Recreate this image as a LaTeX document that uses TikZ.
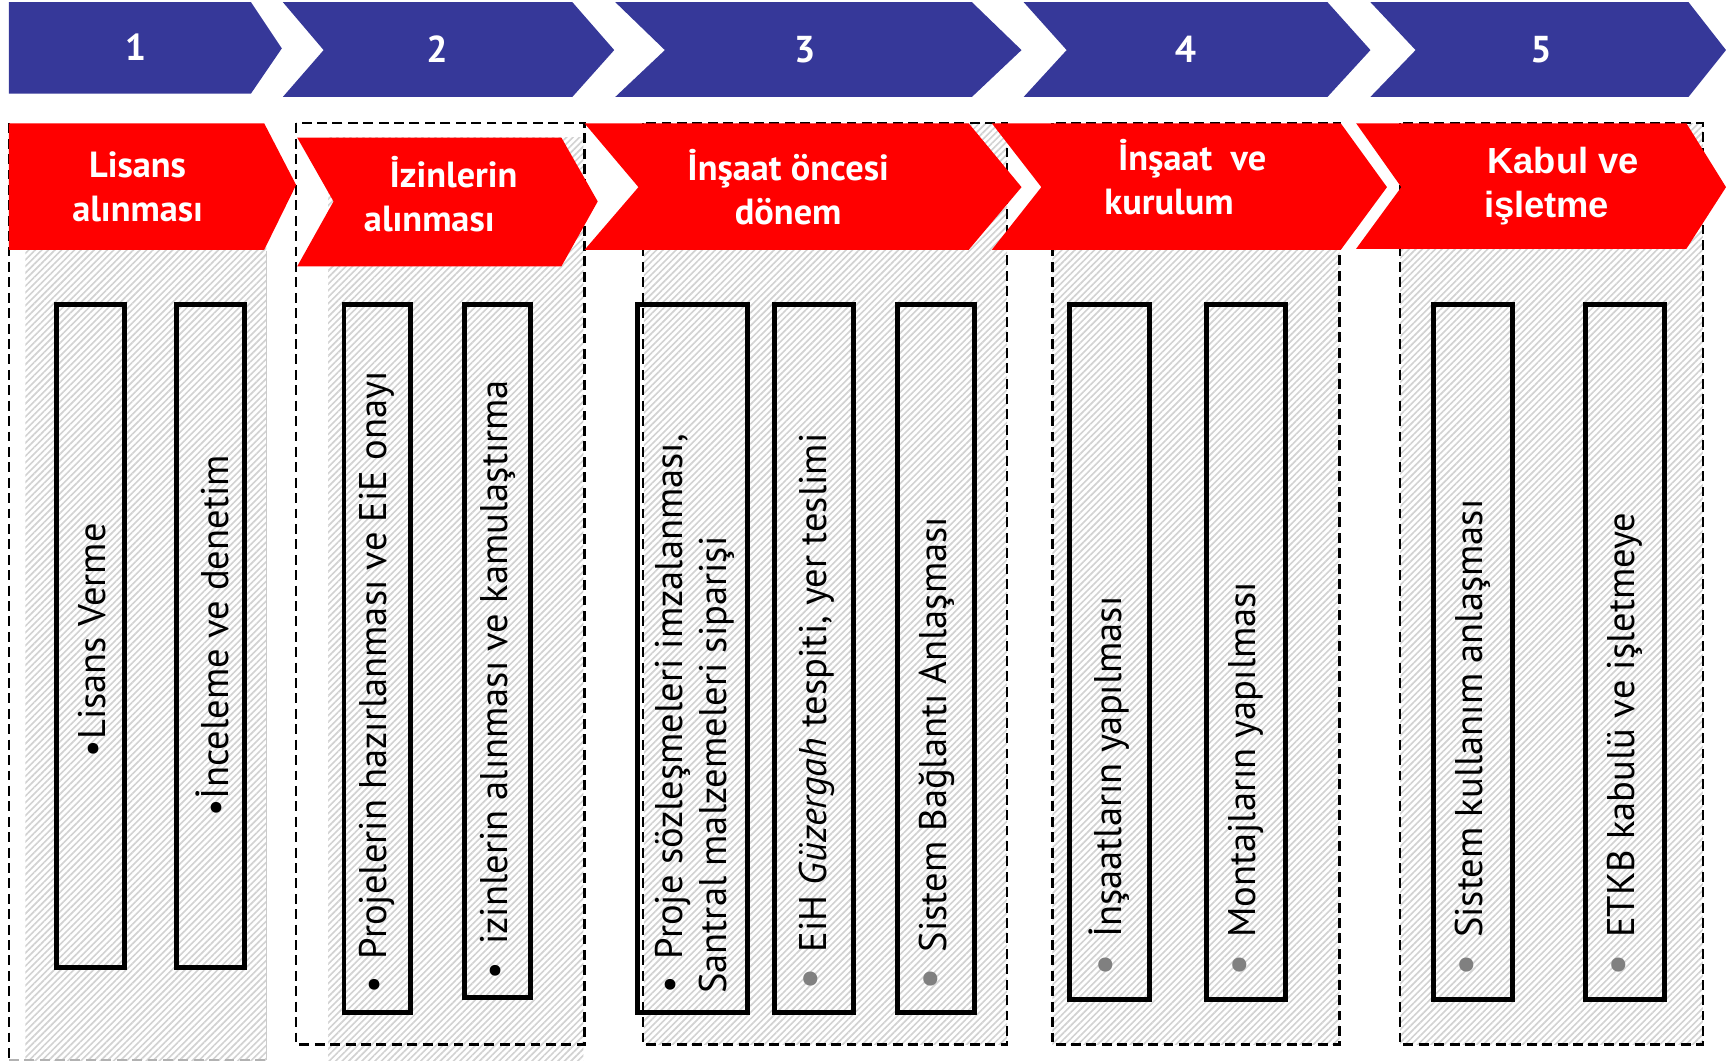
\documentclass[tikz,border=0pt]{standalone}
\usepackage{fontspec}
\setmainfont{PT Sans}
\newfontfamily\arialfont{Liberation Sans}
\usetikzlibrary{patterns.meta}
\definecolor{chevblue}{RGB}{54,56,153}
\definecolor{chevred}{RGB}{255,0,0}
\definecolor{hatchgray}{RGB}{210,210,210}
\definecolor{bulletgray}{RGB}{128,128,128}
\newcommand{\gbul}{{\fontsize{46}{40}\selectfont\textcolor{bulletgray}{•}}\hspace{0.4em}}
\newcommand{\kbul}{•\hspace{0.45em}}
\begin{document}
\begin{tikzpicture}[x=1pt,y=-1pt,
  hatch/.style={pattern={Lines[angle=45,distance=4.2pt,line width=1.5pt]},pattern color=hatchgray},
  grpborder/.style={draw=black,dash pattern=on 9pt off 5pt,line width=2.2pt},
  faintborder/.style={draw=black!30,dash pattern=on 9pt off 5pt,line width=1.5pt},
  bluechev/.style={fill=chevblue},
  redchev/.style={fill=chevred},
  numtxt/.style={text=white,font=\fontsize{34}{40}\selectfont\bfseries,inner sep=0pt},
  hdrtxt/.style={text=white,font=\fontsize{33}{40}\selectfont\bfseries,align=center,inner sep=0pt},
  itembox/.style={draw=black,line width=4.5pt},
  itemtxt/.style={rotate=90,anchor=west,font=\fontsize{35}{40}\selectfont,inner sep=0pt,align=left}
]
\useasboundingbox (0,0) rectangle (1568,966);

% hatched group backgrounds
\fill[hatch] (23,200) rectangle (242,963);
\fill[hatch] (298,125) rectangle (530,963);
\fill[hatch] (585,112) rectangle (915,949);
\fill[hatch] (956,200) rectangle (1217,949);
\fill[hatch] (1272,112) rectangle (1547,949);

% group borders
\draw[grpborder] (8,112) -- (8,963);
\draw[faintborder] (8,963) -- (242,963);
\draw[draw=black!20,line width=1pt] (242,228) -- (242,963);
\draw[grpborder] (269,112) rectangle (531,949);
\draw[grpborder] (584,112) rectangle (915,949);
\draw[grpborder] (956,112) rectangle (1217,949);
\draw[grpborder] (1272,112) rectangle (1547,949);

% blue chevrons
\fill[bluechev] (8,2) -- (228,2) -- (256,44) -- (228,85) -- (8,85) -- cycle;
\fill[bluechev] (257,2) -- (520,2) -- (558,45.5) -- (520,88) -- (257,88) -- (294,45.5) -- cycle;
\fill[bluechev] (559,2) -- (883,2) -- (928,45.5) -- (883,88) -- (559,88) -- (604,45.5) -- cycle;
\fill[bluechev] (930,2) -- (1206,2) -- (1245,45.5) -- (1206,88) -- (930,88) -- (969,45.5) -- cycle;
\fill[bluechev] (1245,2) -- (1534,2) -- (1568,45.5) -- (1534,88) -- (1245,88) -- (1286,45.5) -- cycle;

\node[numtxt] (n1) at (123,43) {1};
\node[numtxt] (n2) at (397,45) {2};
\node[numtxt] (n3) at (731,45) {3};
\node[numtxt] (n4) at (1077,45) {4};
\node[numtxt] (n5) at (1400,45) {5};

% red chevrons
\fill[redchev] (8,112) -- (240,112) -- (269,168) -- (240,227) -- (8,227) -- cycle;
\fill[redchev] (270,125) -- (510,125) -- (543,183) -- (510,242) -- (270,242) -- (303,183) -- cycle;
\fill[redchev] (531,112) -- (880,112) -- (928,170) -- (880,227) -- (531,227) -- (580,170) -- cycle;
\fill[redchev] (901,112) -- (1218,112) -- (1260,170) -- (1218,227) -- (901,227) -- (946,170) -- cycle;
\fill[redchev] (1232,112) -- (1532,112) -- (1568,170) -- (1532,226) -- (1232,226) -- (1273,170) -- cycle;

\node[hdrtxt] (h1) at (125,170) {Lisans\\alınması};
\node[hdrtxt] (h2) at (390,176) {\hspace*{44pt}İzinlerin\\alınması};
\node[hdrtxt] (h3) at (716,170) {İnşaat öncesi\\dönem};
\node[hdrtxt] (h4) at (1062,161) {\hspace*{42pt}İnşaat\ \ ve\\kurulum};
\node[hdrtxt,font=\fontsize{33}{40}\selectfont\arialfont\bfseries] (h5) at (1405,169) {\hspace*{30pt}Kabul ve\\işletme};

% item boxes
\draw[itembox] (51,277) rectangle (113,879);
\draw[itembox] (160,277) rectangle (222,879);
\draw[itembox] (312.5,277) rectangle (373,920);
\draw[itembox] (422,277) rectangle (482,906);
\draw[itembox] (579,277) rectangle (679,920);
\draw[itembox] (704,277) rectangle (775,920);
\draw[itembox] (815,277) rectangle (885.5,920);
\draw[itembox] (972,277) rectangle (1044,908);
\draw[itembox] (1096,277) rectangle (1168,908);
\draw[itembox] (1302,277) rectangle (1374,908);
\draw[itembox] (1440,277) rectangle (1512,908);

% item texts
\node[itemtxt] (t1a) at (84,688) {•Lisans Verme};
\node[itemtxt] (t1b) at (193,742) {•İnceleme ve denetim};
\node[itemtxt] (t2a) at (342,903) {\kbul Projelerin hazırlanması ve EiE onayı};
\node[itemtxt] (t2b) at (452,890) {\kbul izinlerin alınması ve kamulaştırma};
\node[itemtxt] (t3a) at (631,903) {\kbul Proje sözleşmeleri imzalanması,\\Santral malzemeleri siparişi};
\node[itemtxt] (t3b) at (742,900) {\gbul EiH \textit{Güzergah} tespiti, yer teslimi};
\node[itemtxt] (t3c) at (851,900) {\gbul Sistem Bağlantı Anlaşması};
\node[itemtxt] (t4a) at (1008,887) {\gbul İnşaatların yapılması};
\node[itemtxt] (t4b) at (1132,887) {\gbul Montajların yapılması};
\node[itemtxt] (t5a) at (1338,887) {\gbul Sistem kullanım anlaşması};
\node[itemtxt] (t5b) at (1476,887) {\gbul ETKB kabulü ve işletmeye};
\end{tikzpicture}
\end{document}
